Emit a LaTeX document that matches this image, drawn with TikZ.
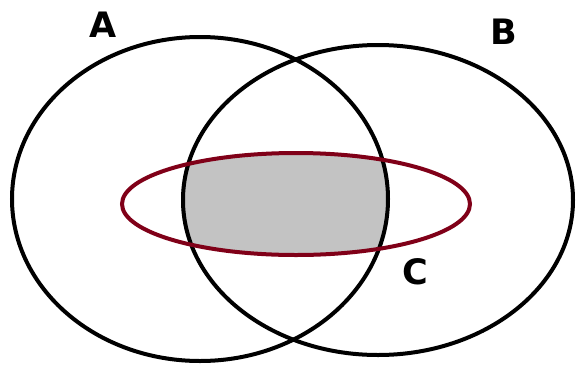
\documentclass[tikz,border=0pt]{standalone}
\usepackage{fontspec}
\setmainfont{DejaVu Sans}
\usepackage{tikz}
\usetikzlibrary{positioning}
\definecolor{Ring}{HTML}{000000}
\definecolor{Wine}{HTML}{800018}
\definecolor{Shade}{HTML}{C3C3C3}
\tikzset{setline/.style={draw=Ring,line width=4pt},cline/.style={draw=Wine,line width=4pt},setlabel/.style={font=\fontsize{35}{40}\selectfont\bfseries,inner sep=0pt}}
\begin{document}
\begin{tikzpicture}[x=1pt,y=-1pt]
      \useasboundingbox (0,0) rectangle (576,365);
      \begin{scope}
        \clip (200,199) ellipse [x radius=188pt,y radius=162pt];
        \clip (378,200) ellipse [x radius=197pt,y radius=155pt];
        \fill[Shade] (296,204) ellipse [x radius=175pt,y radius=52pt];
      \end{scope}
      \draw[setline] (200,199) ellipse [x radius=188pt,y radius=162pt];
      \draw[setline] (378,200) ellipse [x radius=195pt,y radius=155pt];
      \draw[cline] (296,204) ellipse [x radius=174pt,y radius=51pt];
      \node[setlabel](labA) at (103,25){A};
      \node[setlabel](labB) at (504,32){B};
      \node[setlabel](labC) at (415,272){C};
    \end{tikzpicture}
\end{document}
